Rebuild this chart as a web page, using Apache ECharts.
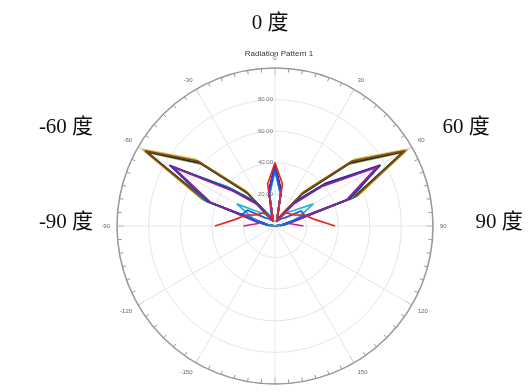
<!DOCTYPE html>
<html>
<head>
<meta charset="utf-8">
<script src="https://cdn.jsdelivr.net/npm/echarts@6/dist/echarts.min.js"></script>
<style>
  html, body { margin: 0; padding: 0; background: #ffffff; }
  #chart { width: 532px; height: 392px; }
</style>
</head>
<body>
<div id="chart"></div>
<script>
// Sample angles in degrees (0 = boresight, negative to the left)
const angles = [-90, -80, -70, -60, -50, -40, -30, -20, -10, 0, 10, 20, 30, 40, 50, 60, 70, 80, 90];

// Radiation pattern magnitudes per trace
const traceYellow  = [0, 6, 49, 97, 66, 30, 8, 4, 21, 37, 21, 4, 8, 29, 66, 97, 56, 8, 0];
const traceOrange  = [0, 5, 48, 95, 64, 28, 7, 4, 21, 37, 21, 4, 7, 28, 64, 96, 55, 7, 0];
const traceOlive   = [0, 6, 46, 93, 61, 27, 8, 4, 20, 36, 20, 4, 8, 26, 61, 93, 53, 8, 0];
const traceBlack   = [0, 5, 46, 94, 62, 27, 7, 3, 22, 38, 22, 3, 7, 26, 62, 94, 53, 7, 0];
const traceBrown   = [0, 6, 47, 95, 64, 28, 8, 4, 22, 39, 22, 4, 8, 27, 64, 95, 54, 8, 0];
const traceTeal    = [0, 5, 47, 75, 38, 21, 6, 3, 22, 37, 22, 3, 6, 21, 42, 75, 52, 5, 0];
const traceNavy    = [0, 5, 45, 77, 36, 20, 6, 3, 23, 38, 23, 3, 6, 20, 42, 77, 50, 5, 0];
const traceMagenta = [20, 10, 43, 74, 34, 18, 5, 3, 21, 36, 21, 3, 5, 18, 39, 74, 48, 9, 18];
const tracePurple  = [0, 6, 44, 76, 35, 19, 6, 3, 22, 37, 22, 3, 6, 19, 40, 76, 49, 6, 0];
const traceCyan    = [0, 8, 15, 28, 14, 10, 5, 3, 20, 35, 20, 3, 5, 11, 15, 28, 16, 8, 0];
const traceBlue    = [3, 8, 22, 20, 8, 6, 4, 3, 21, 36, 21, 3, 4, 6, 8, 19, 20, 8, 3];
const traceRed     = [38, 25, 20, 14, 12, 11, 6, 3, 27, 40, 27, 3, 6, 11, 12, 14, 20, 25, 38];

const traces = [
  { name: 'Trace 1',  color: '#d6c24a', values: traceYellow },
  { name: 'Trace 2',  color: '#c98a3a', values: traceOrange },
  { name: 'Trace 3',  color: '#7fa046', values: traceOlive },
  { name: 'Trace 4',  color: '#2a2220', values: traceBlack },
  { name: 'Trace 5',  color: '#7a4a1e', values: traceBrown },
  { name: 'Trace 6',  color: '#1a9a9a', values: traceTeal },
  { name: 'Trace 7',  color: '#1c2380', values: traceNavy },
  { name: 'Trace 8',  color: '#c4229c', values: traceMagenta },
  { name: 'Trace 9',  color: '#6b2ca6', values: tracePurple },
  { name: 'Trace 10', color: '#27b4cf', values: traceCyan },
  { name: 'Trace 11', color: '#1f56e0', values: traceBlue },
  { name: 'Trace 12', color: '#e3262a', values: traceRed }
];

// Radius ring labels and angle tick labels
const radiusTicks = [20, 40, 60, 80];
const angleTickLabels = { 0: '0', 30: '30', 60: '60', 90: '90', 120: '120', 150: '150', 180: '-180',
  210: '-150', 240: '-120', 270: '-90', 300: '-60', 330: '-30' };

const chart = echarts.init(document.getElementById('chart'), null, { renderer: 'canvas' });

const serif = '"Liberation Serif", "DejaVu Serif", "Noto Sans CJK SC", serif';

chart.setOption({
  animation: false,
  backgroundColor: '#ffffff',
  title: {
    text: 'Radiation Pattern 1',
    left: 274,
    top: 45,
    textAlign: 'center',
    textStyle: { fontSize: 8, fontWeight: 'normal', color: '#333', fontFamily: '"Liberation Sans", Arial, sans-serif' }
  },
  graphic: [
    { type: 'text', x: 270, y: 23, style: { text: '0 度', font: '21px ' + serif, fill: '#111', textAlign: 'center', textVerticalAlign: 'middle' } },
    { type: 'text', x: 66, y: 127, style: { text: '-60 度', font: '21px ' + serif, fill: '#111', textAlign: 'center', textVerticalAlign: 'middle' } },
    { type: 'text', x: 466, y: 127, style: { text: '60 度', font: '21px ' + serif, fill: '#111', textAlign: 'center', textVerticalAlign: 'middle' } },
    { type: 'text', x: 66, y: 222, style: { text: '-90 度', font: '21px ' + serif, fill: '#111', textAlign: 'center', textVerticalAlign: 'middle' } },
    { type: 'text', x: 499, y: 222, style: { text: '90 度', font: '21px ' + serif, fill: '#111', textAlign: 'center', textVerticalAlign: 'middle' } }
  ],
  polar: { center: [275, 226], radius: 158 },
  angleAxis: {
    type: 'value',
    min: 0,
    max: 360,
    interval: 30,
    startAngle: 90,
    clockwise: true,
    axisLine: { show: true, lineStyle: { color: '#999999', width: 1.5 } },
    axisTick: { show: true, inside: true, length: 7, lineStyle: { color: '#999999', width: 1 } },
    minorTick: { show: true, splitNumber: 6, length: 4, lineStyle: { color: '#999999', width: 1 } },
    axisLabel: {
      fontSize: 6,
      color: '#666',
      margin: 7,
      formatter: v => (angleTickLabels[v] !== undefined ? angleTickLabels[v] : '')
    },
    splitLine: { show: true, lineStyle: { color: '#e6e6e6', width: 1 } }
  },
  radiusAxis: {
    type: 'value',
    min: 0,
    max: 100,
    interval: 20,
    axisLine: { show: false },
    axisTick: { show: false },
    axisLabel: {
      inside: true,
      margin: 2,
      fontSize: 6,
      color: '#777',
      formatter: v => (radiusTicks.indexOf(v) >= 0 ? v.toFixed(2) : '')
    },
    splitLine: { show: true, lineStyle: { color: '#e6e6e6', width: 1 } }
  },
  series: traces.map(t => ({
    name: t.name,
    type: 'line',
    coordinateSystem: 'polar',
    symbol: 'none',
    lineStyle: { color: t.color, width: 1.7 },
    itemStyle: { color: t.color },
    data: angles.map((a, i) => [t.values[i], (a + 360) % 360])
  }))
});
</script>
</body>
</html>
